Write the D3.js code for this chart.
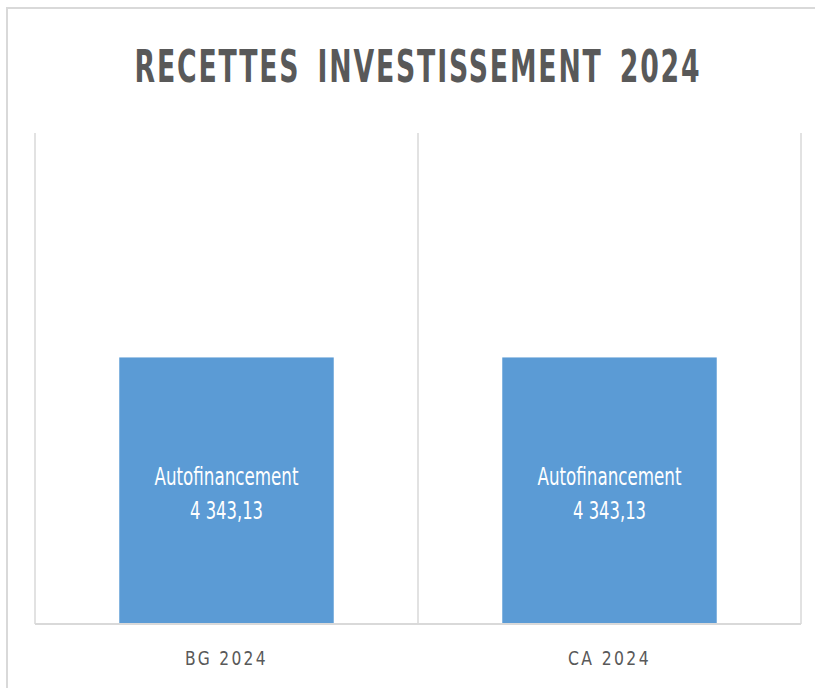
<!DOCTYPE html>
<html>
<head>
<meta charset="utf-8">
<script src="https://cdn.jsdelivr.net/npm/d3@7"></script>
<style>
  body { margin: 0; background: #fff; }
  svg text { font-family: "DejaVu Sans", "Open Sans", sans-serif; }
</style>
</head>
<body>
<svg id="chart" width="815" height="688"></svg>
<script>
// data
var categories = ["BG 2024", "CA 2024"];
var seriesName = "Autofinancement";
var values = [4343.13, 4343.13];
var yMax = 8000;

var svg = d3.select("#chart");
var margin = {left: 35, right: 14, top: 133, bottom: 64};
var W = 815, H = 688;

// squeeze a text horizontally to a target width, centred on cx
function fit(t, cx, target){
    var w = t.node().getComputedTextLength();
    var k = target / w;
    t.attr("x", 0).attr("text-anchor", "middle")
     .attr("transform", "translate(" + cx + ",0) scale(" + k + ",1)");
}

// outer frame (only top + left visible)
svg.append("path")
    .attr("d", "M7,688 L7,8 L815,8")
    .attr("fill", "none")
    .attr("stroke", "#d9d9d9")
    .attr("stroke-width", 2);

var title = svg.append("text")
    .attr("y", 82)
    .attr("font-size", 44)
    .attr("font-weight", "bold")
    .attr("fill", "#595959")
    .attr("letter-spacing", 3)
    .attr("word-spacing", 10)
    .text("RECETTES INVESTISSEMENT 2024");
fit(title, 418, 567);

var x = d3.scaleBand()
    .domain(categories)
    .range([margin.left, W - margin.right])
    .paddingInner(0).paddingOuter(0);

var y = d3.scaleLinear()
    .domain([0, yMax])
    .range([H - margin.bottom, margin.top]);

// vertical category gridlines
var edges = categories.map(function(c){ return x(c); }).concat([x.range()[1]]);
svg.selectAll("line.grid")
    .data(edges)
    .enter().append("line")
    .attr("class", "grid")
    .attr("x1", function(d){ return d; })
    .attr("x2", function(d){ return d; })
    .attr("y1", margin.top)
    .attr("y2", H - margin.bottom)
    .attr("stroke", "#d9d9d9")
    .attr("stroke-width", 1.5);

var barW = x.bandwidth() * 0.56;

svg.selectAll("rect.bar")
    .data(values)
    .enter().append("rect")
    .attr("class", "bar")
    .attr("x", function(d, i){ return x(categories[i]) + (x.bandwidth() - barW) / 2; })
    .attr("y", function(d){ return y(d); })
    .attr("width", barW)
    .attr("height", function(d){ return y(0) - y(d); })
    .attr("fill", "#5b9bd5");

// bottom axis line
svg.append("line")
    .attr("x1", margin.left).attr("x2", W - margin.right)
    .attr("y1", y(0)).attr("y2", y(0))
    .attr("stroke", "#d9d9d9")
    .attr("stroke-width", 2);

// labels inside bars
var fmt = function(v){
    var s = v.toFixed(2).split(".");
    return s[0].replace(/\B(?=(\d{3})+(?!\d))/g, " ") + "," + s[1];
};
values.forEach(function(v, i){
    var cx = x(categories[i]) + x.bandwidth() / 2;
    var my = (y(v) + y(0)) / 2;
    var t1 = svg.append("text")
        .attr("y", my - 6)
        .attr("font-size", 24)
        .attr("fill", "#fff")
        .text(seriesName);
    fit(t1, cx, 144);
    var t2 = svg.append("text")
        .attr("y", my + 28)
        .attr("font-size", 24)
        .attr("fill", "#fff")
        .text(fmt(v));
    fit(t2, cx, 73);
});

// category labels
svg.selectAll("text.cat")
    .data(categories)
    .enter().append("text")
    .attr("class", "cat")
    .attr("y", 665)
    .attr("font-size", 20)
    .attr("fill", "#595959")
    .attr("letter-spacing", 3)
    .text(function(d){ return d; })
    .each(function(d){
        fit(d3.select(this), x(d) + x.bandwidth() / 2, 83);
    });
</script>
</body>
</html>
